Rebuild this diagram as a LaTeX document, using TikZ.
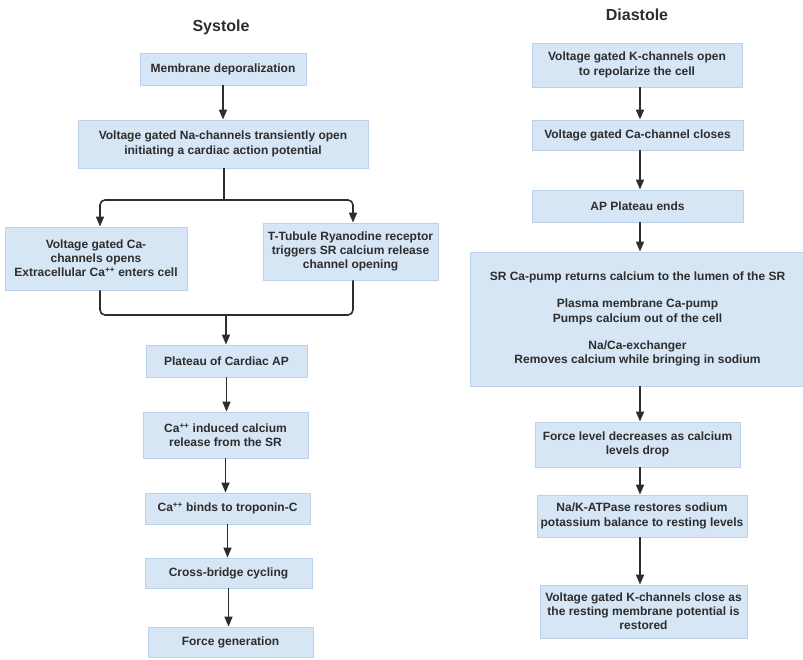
\documentclass[tikz,border=0pt]{standalone}
\usepackage{fontspec}
\setmainfont{Liberation Sans}
\usetikzlibrary{arrows.meta,calc}
\definecolor{boxfill}{RGB}{214,230,245}
\definecolor{boxline}{RGB}{188,210,234}
\definecolor{ink}{RGB}{45,45,45}
\begin{document}
\begin{tikzpicture}[x=1pt,y=-1pt,
  every node/.style={font=\fontsize{12}{14.2}\selectfont\bfseries, text=ink, align=center, inner sep=0pt},
  stepbox/.style={draw=boxline, fill=boxfill, line width=0.8pt},
  titlenode/.style={font=\fontsize{16}{19}\selectfont\bfseries, text=ink},
  arr/.style={draw=ink, line width=1.6pt, -{Triangle[length=10pt,width=8pt]}},
  ln/.style={draw=ink, line width=1.6pt}]
\useasboundingbox (0,0) rectangle (803,660);
\fill[white] (0,0) rectangle (803,660);
% ---------- Systole ----------
\node[titlenode] (ts) at (221,27) {Systole};
\node[stepbox, minimum width=166pt, minimum height=32pt] (m1) at (223,69) {Membrane deporalization};
\node[stepbox, minimum width=290pt, minimum height=48pt] (m2) at (223,144) {Voltage gated Na-channels transiently open\\initiating a cardiac action potential};
\node[stepbox, minimum width=182pt, minimum height=63pt] (l1) at (96,258.5) {Voltage gated Ca-\\channels opens\\Extracellular Ca\textsuperscript{++} enters cell};
\node[stepbox, minimum width=175pt, minimum height=57pt] (r1) at (350.5,251.5) {T-Tubule Ryanodine receptor\\triggers SR calcium release\\channel opening};
\node[stepbox, minimum width=161pt, minimum height=32pt] (p) at (226.5,361) {Plateau of Cardiac AP};
\node[stepbox, minimum width=165pt, minimum height=46pt] (c1) at (225.5,435) {Ca\textsuperscript{++} induced calcium\\release from the SR};
\node[stepbox, minimum width=165pt, minimum height=31pt] (c2) at (227.5,508.5) {Ca\textsuperscript{++} binds to troponin-C};
\node[stepbox, minimum width=167pt, minimum height=30pt] (c3) at (228.5,573) {Cross-bridge cycling};
\node[stepbox, minimum width=165pt, minimum height=30pt] (c4) at (230.5,642) {Force generation};
\coordinate (split) at (224,200);
\coordinate (merge) at (226,315);
\draw[arr] (m1.south) -- (m1.south |- m2.north);
\draw[ln] (m2.south -| split) -- (split);
\draw[arr, rounded corners=5pt] (split) -| ($(l1.north)+(4,0)$);
\draw[arr, rounded corners=5pt] (split) -| ($(r1.north)+(2.5,0)$);
\draw[ln, rounded corners=5pt] ($(l1.south)+(4,0)$) |- (merge);
\draw[ln, rounded corners=5pt] ($(r1.south)+(2.5,0)$) |- (merge);
\draw[arr] (merge) -- (merge |- p.north);
\draw[arr] (p.south) -- (p.south |- c1.north);
\draw[arr] (c1.south) -- (c1.south |- c2.north);
\draw[arr] (c2.south) -- (c2.south |- c3.north);
\draw[arr] (c3.south) -- (c3.south |- c4.north);
% ---------- Diastole ----------
\node[titlenode] (td) at (637,15) {Diastole};
\node[stepbox, minimum width=210pt, minimum height=44pt] (d1) at (637,65) {Voltage gated K-channels open\\to repolarize the cell};
\node[stepbox, minimum width=211pt, minimum height=30pt] (d2) at (637.5,135) {Voltage gated Ca-channel closes};
\node[stepbox, minimum width=211pt, minimum height=32pt] (d3) at (637.5,206) {AP Plateau ends};
\node[stepbox, minimum width=335pt, minimum height=134pt] (d4) at (637.5,319) {SR Ca-pump returns calcium to the lumen of the SR\\[13.5pt]Plasma membrane Ca-pump\\Pumps calcium out of the cell\\[13.5pt]Na/Ca-exchanger\\Removes calcium while bringing in sodium};
\node[stepbox, minimum width=205pt, minimum height=45pt] (d5) at (637.5,444.5) {Force level decreases as calcium\\levels drop};
\node[stepbox, minimum width=210pt, minimum height=42pt] (d6) at (642,516) {Na/K-ATPase restores sodium\\potassium balance to resting levels};
\node[stepbox, minimum width=207pt, minimum height=53pt] (d7) at (643.5,611.5) {Voltage gated K-channels close as\\the resting membrane potential is\\restored};
\coordinate (dx) at (640,0);
\draw[arr] (d1.south -| dx) -- (d2.north -| dx);
\draw[arr] (d2.south -| dx) -- (d3.north -| dx);
\draw[arr] (d3.south -| dx) -- (d4.north -| dx);
\draw[arr] (d4.south -| dx) -- (d5.north -| dx);
\draw[arr] (d5.south -| dx) -- (d6.north -| dx);
\draw[arr] (d6.south -| dx) -- (d7.north -| dx);
\end{tikzpicture}
\end{document}
